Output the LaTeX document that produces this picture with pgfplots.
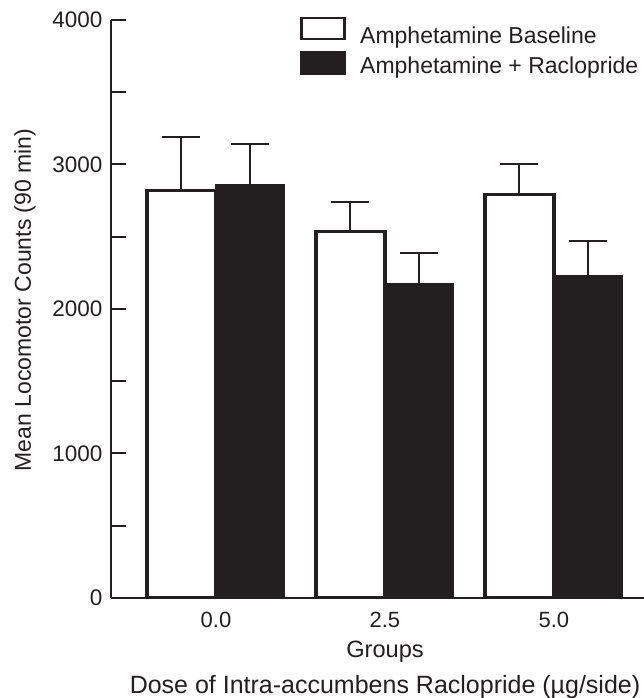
\documentclass[border=0pt]{standalone}
\usepackage{fontspec}
\setmainfont{Liberation Sans}
\usepackage{pgfplots}
\usepackage{pgfplotstable}
\pgfplotsset{compat=1.18}
\usetikzlibrary{calc}
\definecolor{ink}{HTML}{231F20}
\pgfplotsset{
  whitelegend/.style={legend image code/.code={\draw[##1,line width=1.3bp] (0bp,-1.35bp) rectangle (21.5bp,9.05bp);}},
  blacklegend/.style={legend image code/.code={\draw[##1,line width=1.3bp] (0bp,-3.5bp) rectangle (21.5bp,6.85bp);}},
}

\pgfplotstableread{
x y e
0 2820 370
1 2537 205
2 2790 212
}\base
\pgfplotstableread{
x y e
0 2860 282
1 2177 212
2 2235 236
}\raclo

\begin{document}
\begin{tikzpicture}
\begin{axis}[
  name=ax,
  scale only axis,
  width=266.5bp, height=289bp,
  xmin=-0.621, xmax=2.533,
  ymin=0, ymax=4000,
  axis lines*=left,
  axis line style={line width=1bp, ink},
  ybar=0pt, bar width=34.5bp,
  xtick={0,1,2}, xticklabels={0.0,2.5,5.0},
  major x tick style=transparent,
  ytick={0,1000,2000,3000,4000},
  minor ytick={500,1500,2500,3500},
  tick align=inside,
  major tick length=7.5bp, minor tick length=7.5bp,
  tick style={line width=1bp, ink},
  /pgf/number format/assume math mode=true,
  yticklabel style={font=\fontsize{11.25bp}{13bp}\selectfont, text=ink, xshift=-0.8bp},
  xticklabel style={font=\fontsize{11bp}{13bp}\selectfont, text=ink, anchor=base, yshift=-14.5bp},
  scaled y ticks=false,
  yticklabel={\pgfmathprintnumber[fixed,precision=0,1000 sep={}]{\tick}},
  legend style={at={(axis description cs:0.3546,1.0054)}, anchor=north west,
    draw=none, fill=none, inner sep=0pt, outer sep=0pt, row sep=2.6bp,
    font=\fontsize{11.5bp}{13bp}\selectfont, text=ink,
    nodes={inner sep=0pt},
    /tikz/every odd column/.append style={column sep=7.3bp}},
  legend cell align=left,
  error bars/error bar style={line width=1bp, ink},
  error bars/error mark options={line width=1bp, ink, mark size=9.5bp},
]
\addplot[fill=white, draw=ink, line width=1.6bp, whitelegend,
  error bars/.cd, y dir=plus, y explicit, error mark=|]
  table[x=x, y=y, y error=e] {\base};
\addlegendentry{Amphetamine Baseline}
\addplot[fill=ink, draw=ink, line width=0.5bp, blacklegend,
  error bars/.cd, y dir=plus, y explicit, error mark=|]
  table[x=x, y=y, y error=e] {\raclo};
\addlegendentry{Amphetamine + Raclopride}
\end{axis}
\node[anchor=base, font=\fontsize{11.8bp}{14bp}\selectfont, text=ink]
  at ($(ax.south west)+(137bp,-29.5bp)$) {Groups};
\node[anchor=base, font=\fontsize{12.5bp}{14bp}\selectfont, text=ink]
  at ($(ax.south west)+(137bp,-47.5bp)$) {Dose of Intra-accumbens Raclopride (µg/side)};
\node[rotate=90, anchor=center, font=\fontsize{11.5bp}{14bp}\selectfont, text=ink]
  at ($(ax.south west)+(-43bp,149bp)$) {Mean Locomotor Counts (90 min)};
\pgfresetboundingbox
\path[use as bounding box] ($(ax.south west)+(-55.5bp,-50bp)$) rectangle ($(ax.south west)+(266.5bp,299bp)$);
\end{tikzpicture}
\end{document}
